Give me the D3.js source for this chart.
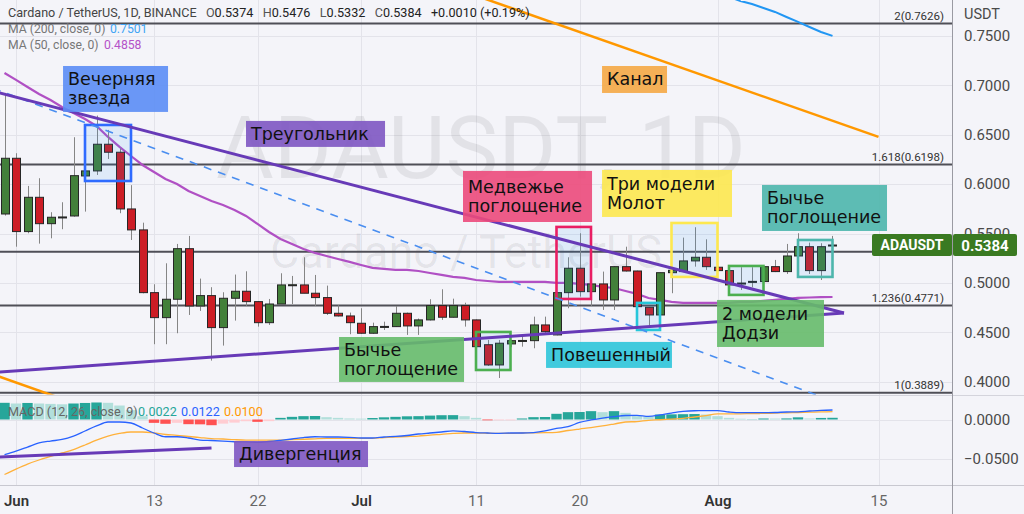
<!DOCTYPE html>
<html><head><meta charset="utf-8">
<script src="https://cdn.jsdelivr.net/npm/d3@7/dist/d3.min.js"></script>
<style>
html,body{margin:0;padding:0;background:#f4f4f9;}
svg{display:block;font-family:Roboto,"Noto Sans",sans-serif;}
</style></head><body>
<svg id="chart" width="1024" height="514"></svg>
<script>
// ---------------- DATA ----------------
const startDate = "2022-05-31"; // one candle per day from here
const opens  = [0.5698,0.6262,0.5520,0.5867,0.5600,0.5662,0.5678,0.6083,0.6134,0.6404,0.6323,0.5749,0.5537,0.4902,0.4649,0.4835,0.5347,0.4767,0.4872,0.4548,0.4845,0.4916,0.4811,0.4598,0.4787,0.4978,0.4980,0.4896,0.4852,0.4693,0.4666,0.4592,0.4491,0.4556,0.4558,0.4693,0.4565,0.4626,0.4771,0.4653,0.4771,0.4626,0.4375,0.4170,0.4383,0.4414,0.4416,0.4575,0.4474,0.4902,0.5149,0.4912,0.4990,0.4828,0.5165,0.5121,0.4754,0.4676,0.5104,0.5115,0.5223,0.5260,0.5159,0.5125,0.4995,0.5012,0.5014,0.5165,0.5115,0.5273,0.5367,0.5125,0.5374];
const highs  = [0.6923,0.6313,0.5982,0.6060,0.5716,0.5817,0.6475,0.6140,0.6694,0.6549,0.6363,0.5990,0.5610,0.4987,0.5199,0.5395,0.5476,0.5044,0.4957,0.4906,0.5085,0.5118,0.4815,0.4838,0.5098,0.5071,0.5260,0.5081,0.4973,0.4774,0.4700,0.4744,0.4598,0.4608,0.4767,0.4700,0.4640,0.4835,0.4936,0.4841,0.4800,0.4630,0.4423,0.4423,0.4416,0.4474,0.4659,0.4659,0.4902,0.5260,0.5503,0.4995,0.5115,0.5170,0.5367,0.5125,0.4754,0.5104,0.5128,0.5459,0.5564,0.5442,0.5165,0.5125,0.5159,0.5159,0.5165,0.5233,0.5395,0.5503,0.5408,0.5402,0.5476];
const lows   = [0.5682,0.5367,0.5503,0.5398,0.5452,0.5544,0.5671,0.5722,0.6093,0.6255,0.5706,0.5435,0.4895,0.4380,0.4380,0.4491,0.4676,0.4717,0.4214,0.4366,0.4619,0.4767,0.4558,0.4575,0.4787,0.4787,0.4896,0.4767,0.4676,0.4660,0.4481,0.4485,0.4485,0.4524,0.4555,0.4474,0.4474,0.4620,0.4626,0.4650,0.4558,0.4350,0.4160,0.4038,0.4350,0.4355,0.4339,0.4491,0.4470,0.4744,0.4862,0.4767,0.4727,0.4727,0.5115,0.4710,0.4558,0.4670,0.4896,0.5110,0.5165,0.5132,0.5120,0.4957,0.4929,0.4957,0.5010,0.5110,0.5091,0.5270,0.5091,0.5030,0.5332];
const closes = [0.6262,0.5520,0.5867,0.5600,0.5665,0.5668,0.6086,0.6134,0.6404,0.6323,0.5749,0.5537,0.4902,0.4649,0.4835,0.5347,0.4767,0.4872,0.4548,0.4845,0.4916,0.4811,0.4598,0.4787,0.4980,0.4982,0.4896,0.4852,0.4693,0.4666,0.4598,0.4491,0.4558,0.4560,0.4693,0.4565,0.4626,0.4771,0.4653,0.4771,0.4626,0.4355,0.4170,0.4390,0.4416,0.4418,0.4575,0.4507,0.4902,0.5149,0.4912,0.4990,0.4828,0.5165,0.5121,0.4760,0.4676,0.5104,0.5128,0.5223,0.5260,0.5165,0.5125,0.4980,0.4999,0.5016,0.5165,0.5115,0.5273,0.5367,0.5125,0.5367,0.5384];
const ma50   = [0.7125,0.7055,0.6984,0.6913,0.6852,0.6781,0.6721,0.6660,0.6589,0.6478,0.6377,0.6285,0.6194,0.6123,0.6053,0.6002,0.5931,0.5881,0.5830,0.5789,0.5739,0.5678,0.5597,0.5516,0.5445,0.5395,0.5344,0.5304,0.5273,0.5243,0.5213,0.5182,0.5152,0.5142,0.5132,0.5132,0.5121,0.5101,0.5081,0.5061,0.5051,0.5030,0.5020,0.5010,0.5010,0.5010,0.5010,0.5010,0.5000,0.5000,0.4990,0.4980,0.4960,0.4949,0.4919,0.4889,0.4848,0.4828,0.4808,0.4798,0.4798,0.4798,0.4798,0.4798,0.4808,0.4808,0.4818,0.4828,0.4838,0.4848,0.4853,0.4856,0.4858];
const ma200FirstDay = 63;
const ma200  = [0.7895,0.7854,0.7824,0.7783,0.7743,0.7692,0.7642,0.7591,0.7540,0.7501];
const macdLine   = [-0.0449,-0.0404,-0.0353,-0.0301,-0.0276,-0.0256,-0.0212,-0.0147,-0.0083,-0.0032,-0.0032,-0.0045,-0.0109,-0.0173,-0.0221,-0.0221,-0.0237,-0.0263,-0.0269,-0.0276,-0.0285,-0.0288,-0.0292,-0.0282,-0.0267,-0.0250,-0.0231,-0.0221,-0.0224,-0.0224,-0.0228,-0.0237,-0.0237,-0.0224,-0.0217,-0.0205,-0.0186,-0.0173,-0.0160,-0.0145,-0.0154,-0.0167,-0.0173,-0.0177,-0.0173,-0.0173,-0.0167,-0.0147,-0.0115,-0.0092,-0.0038,-0.0006,0.0019,0.0037,0.0051,0.0054,0.0041,0.0058,0.0083,0.0103,0.0112,0.0113,0.0113,0.0096,0.0087,0.0087,0.0087,0.0090,0.0096,0.0099,0.0109,0.0118,0.0122];
const signalLine = [-0.0705,-0.0635,-0.0571,-0.0519,-0.0474,-0.0429,-0.0385,-0.0327,-0.0263,-0.0212,-0.0179,-0.0160,-0.0160,-0.0173,-0.0192,-0.0203,-0.0218,-0.0231,-0.0244,-0.0250,-0.0258,-0.0263,-0.0263,-0.0263,-0.0263,-0.0258,-0.0253,-0.0247,-0.0242,-0.0241,-0.0241,-0.0241,-0.0241,-0.0231,-0.0224,-0.0218,-0.0212,-0.0199,-0.0190,-0.0179,-0.0173,-0.0173,-0.0176,-0.0177,-0.0177,-0.0173,-0.0171,-0.0169,-0.0164,-0.0141,-0.0122,-0.0104,-0.0083,-0.0058,-0.0032,-0.0026,-0.0010,-0.0003,0.0006,0.0014,0.0032,0.0051,0.0071,0.0072,0.0073,0.0076,0.0078,0.0082,0.0086,0.0090,0.0094,0.0097,0.0100];
const histogram  = [0.0214,0.0205,0.0212,0.0205,0.0200,0.0195,0.0205,0.0212,0.0218,0.0214,0.0179,0.0120,0.0043,-0.0043,-0.0055,-0.0043,-0.0060,-0.0062,-0.0073,-0.0053,-0.0040,-0.0022,-0.0030,-0.0021,0.0021,0.0034,0.0043,0.0045,0.0030,0.0021,0.0013,0.0011,0.0019,0.0028,0.0034,0.0041,0.0043,0.0050,0.0055,0.0056,0.0043,0.0021,-0.0009,-0.0006,-0.0004,0.0013,0.0030,0.0032,0.0073,0.0094,0.0096,0.0107,0.0094,0.0107,0.0085,0.0043,0.0038,0.0064,0.0066,0.0068,0.0070,0.0064,0.0043,0.0021,0.0010,0.0003,0.0013,0.0012,0.0014,0.0028,0.0013,0.0020,0.0022];
const priceTicks = [0.40,0.45,0.50,0.55,0.60,0.65,0.70,0.75];
const macdTicks  = [0.0,-0.05];
const timeTickDates  = ["2022-06-01","2022-06-13","2022-06-22","2022-07-01","2022-07-11","2022-07-20","2022-08-01","2022-08-15"];
const timeTickLabels = ["Jun","13","22","Jul","11","20","Aug","15"];
const fibRatios = ["2","1.618","1.382","1.236","1"];
const fibValues = [0.7626,0.6198,0.5317,0.4771,0.3889];
// drawings anchored in (date, price)
const triangleUpper = [["2022-05-30",0.6941],["2022-08-12",0.4696]];
const triangleLower = [["2022-05-30",0.4094],["2022-08-12",0.4696]];
const dashedTrend   = [["2022-05-30",0.6970],["2022-08-10",0.3849]];
const channelUpper  = [["2022-07-11",0.7908],["2022-08-15",0.6478]];
const channelLower  = [["2022-05-30",0.4074],["2022-06-06",0.3787]];
const divergence    = [["2022-05-30",-0.0485],["2022-06-18",-0.0365]];
const patternFrom   = ["2022-06-07","2022-07-18","2022-07-28","2022-08-08","2022-08-02","2022-07-11","2022-07-25"];
const patternTo     = ["2022-06-11","2022-07-21","2022-08-01","2022-08-11","2022-08-05","2022-07-14","2022-07-27"];
const patternTop    = [0.6599,0.5567,0.5607,0.5435,0.5172,0.4504,0.4798];
const patternBottom = [0.6032,0.4838,0.5061,0.5061,0.4879,0.4119,0.4524];
const labelTexts = [["Вечерняя","звезда"],["Треугольник"],["Канал"],["Медвежье","поглощение"],["Три модели","Молот"],["Бычье","поглощение"],["2 модели","Додзи"],["Бычье","поглощение"],["Повешенный"],["Дивергенция"]];
const labelFromDay = [5.09,21.0,51.96,39.87,51.96,65.87,61.96,29.09,47.09,19.96];
const labelToDay   = [14.22,33.09,57.61,51.09,63.26,76.74,71.26,39.96,58.04,31.61];
const labelTop     = [0.7196,0.6640,0.7196,0.6134,0.6144,0.5992,0.4828,0.4453,0.4403,-0.0276];
const labelBottom  = [0.6731,0.6377,0.6923,0.5617,0.5668,0.5526,0.4352,0.3998,0.4140,-0.0609];

// ---------------- STYLE / LAYOUT ----------------
const patternColors = ["#2f6bff","#e91e63","#fde84f","#4db6ac","#4caf50","#4caf50","#26c6da"];
const labelColors = ["#5b8df5","#7e57c2","#f5a845","#ec4a7b","#fde84f","#4db6ac","#66bb6a","#66bb6a","#2ec5d9","#7e57c2"];
const labelPane = ["m","m","m","m","m","m","m","m","m","d"];

const W=1024,H=514, PR=952;
const svg = d3.select("#chart");
const t0 = new Date(startDate+"T00:00:00Z").getTime();
const dayAt = i => new Date(t0 + i*864e5);
const dates = opens.map((_,i)=>dayAt(i));
const P = s => new Date(s+"T00:00:00Z");
const x  = d3.scaleUtc().domain([dayAt(0),dayAt(76)]).range([4.5,878.5]);
const y  = d3.scaleLinear().domain([0.3876,0.7864]).range([394,0]);
const ym = d3.scaleLinear().domain([-0.0865,0.0314]).range([487,395]);

svg.append("rect").attr("width",W).attr("height",H).attr("fill","#f4f4f9");
const defs = svg.append("defs");
defs.append("clipPath").attr("id","cm").append("rect").attr("x",0).attr("y",0).attr("width",PR).attr("height",394.5);
defs.append("clipPath").attr("id","cd").append("rect").attr("x",0).attr("y",396).attr("width",PR).attr("height",89);

// grid
const grid = svg.append("g").attr("stroke","#e3e3ea").attr("stroke-width",1);
grid.selectAll(".h").data(priceTicks).join("line").attr("x1",0).attr("x2",PR).attr("y1",d=>Math.round(y(d))+0.5).attr("y2",d=>Math.round(y(d))+0.5);
grid.selectAll(".hm").data(macdTicks).join("line").attr("x1",0).attr("x2",PR).attr("y1",d=>Math.round(ym(d))+0.5).attr("y2",d=>Math.round(ym(d))+0.5);
grid.selectAll(".v").data(timeTickDates).join("line").attr("x1",d=>Math.round(x(P(d)))+0.5).attr("x2",d=>Math.round(x(P(d)))+0.5).attr("y1",0).attr("y2",485);

// watermark
svg.append("text").attr("x",216).attr("y",178).attr("font-size",88).attr("textLength",530).attr("lengthAdjust","spacingAndGlyphs")
  .attr("fill","#000").attr("fill-opacity",0.07).text("ADAUSDT, 1D");
svg.append("text").attr("x",270).attr("y",268).attr("font-size",46).attr("textLength",392).attr("lengthAdjust","spacingAndGlyphs")
  .attr("fill","#000").attr("fill-opacity",0.07).text("Cardano / TetherUS");

// separators
svg.append("line").attr("x1",0).attr("x2",W).attr("y1",395.5).attr("y2",395.5).attr("stroke","#d4d4dc");
svg.append("line").attr("x1",0).attr("x2",W).attr("y1",485.5).attr("y2",485.5).attr("stroke","#c8c8d0");

const main = svg.append("g").attr("clip-path","url(#cm)");
// fib levels
fibValues.forEach((v,i)=>{
  main.append("line").attr("x1",0).attr("x2",PR).attr("y1",y(v)).attr("y2",y(v)).attr("stroke","#4f4f57").attr("stroke-width",2);
  main.append("text").attr("x",944).attr("y",y(v)-4).attr("text-anchor","end").attr("font-size",11.5).attr("fill","#333")
    .text(`${fibRatios[i]}(${v.toFixed(4)})`);
});
// MAs
main.append("path").datum(ma50).attr("fill","none").attr("stroke","#b050c4").attr("stroke-width",2.2)
  .attr("d", d3.line().x((d,i)=>x(dates[i])).y(d=>y(d)));
main.append("path").datum(ma200).attr("fill","none").attr("stroke","#2196f3").attr("stroke-width",2)
  .attr("d", d3.line().x((d,i)=>x(dayAt(ma200FirstDay+i))).y(d=>y(d)));

// candles
const cg = main.append("g");
dates.forEach((d,i)=>{
  const cx = Math.round(x(d))+0.5, up = closes[i]>=opens[i];
  cg.append("line").attr("x1",cx).attr("x2",cx).attr("y1",y(highs[i])).attr("y2",y(lows[i])).attr("stroke","#858585").attr("stroke-width",1);
  const y1=y(Math.max(opens[i],closes[i])), y2=y(Math.min(opens[i],closes[i]));
  cg.append("rect").attr("x",cx-4).attr("width",8).attr("y",y1).attr("height",Math.max(1,y2-y1))
    .attr("fill",up?"#43803a":"#cc1d25").attr("stroke","#262626").attr("stroke-width",1);
});

// pattern rectangles
patternFrom.forEach((f,i)=>{
  const x1=x(P(f)), x2=x(P(patternTo[i])), y1=y(patternTop[i]), y2=y(patternBottom[i]);
  main.append("rect").attr("x",x1).attr("y",y1).attr("width",x2-x1).attr("height",y2-y1)
    .attr("fill","rgba(33,150,243,0.10)").attr("stroke",patternColors[i]).attr("stroke-width",2.6);
});

// trend lines
const seg = pts => d3.line().x(p=>x(P(p[0]))).y(p=>y(p[1]))(pts);
main.append("path").attr("d",seg(dashedTrend)).attr("fill","none").attr("stroke","#4a8ef0").attr("stroke-width",1.6).attr("stroke-dasharray","8,7");
main.append("path").attr("d",seg(triangleUpper)).attr("fill","none").attr("stroke","#673ab7").attr("stroke-width",3);
main.append("path").attr("d",seg(triangleLower)).attr("fill","none").attr("stroke","#673ab7").attr("stroke-width",3);
main.append("path").attr("d",seg(channelUpper)).attr("fill","none").attr("stroke","#ff9800").attr("stroke-width",2.5);
svg.append("path").attr("d",seg(channelLower)).attr("fill","none").attr("stroke","#ff9800").attr("stroke-width",2.5).attr("clip-path","url(#cm)");

// MACD pane
const md = svg.append("g").attr("clip-path","url(#cd)");
histogram.forEach((v,i)=>{
  const prev = i>0?histogram[i-1]:-1;
  const col = v>=0 ? (v>=prev?"#26a69a":"#b2dfdb") : (v<prev?"#ff5252":"#ffcdd2");
  const cx = x(dates[i]);
  md.append("rect").attr("x",cx-5.2).attr("width",10.4).attr("y",Math.min(ym(v),ym(0))).attr("height",Math.max(0.8,Math.abs(ym(v)-ym(0)))).attr("fill",col);
});
md.append("path").datum(signalLine).attr("fill","none").attr("stroke","#ffb13b").attr("stroke-width",1.3)
  .attr("d", d3.line().x((d,i)=>x(dates[i])).y(d=>ym(d)).curve(d3.curveMonotoneX));
md.append("path").datum(macdLine).attr("fill","none").attr("stroke","#2962ff").attr("stroke-width",1.3)
  .attr("d", d3.line().x((d,i)=>x(dates[i])).y(d=>ym(d)).curve(d3.curveMonotoneX));
md.append("path").attr("d", d3.line().x(p=>x(P(p[0]))).y(p=>ym(p[1]))(divergence)).attr("fill","none").attr("stroke","#673ab7").attr("stroke-width",3);

// label boxes
labelTexts.forEach((lines,i)=>{
  const sy = labelPane[i]==="d"?ym:y;
  const x1=x(dayAt(labelFromDay[i])), x2=x(dayAt(labelToDay[i]));
  const y1=sy(labelTop[i]), y2=sy(labelBottom[i]), h=y2-y1, lh=19;
  const g = svg.append("g");
  g.append("rect").attr("x",x1).attr("y",y1).attr("width",x2-x1).attr("height",h).attr("fill",labelColors[i]).attr("fill-opacity",0.9);
  lines.forEach((t,j)=>{
    g.append("text").attr("x",x1+5).attr("y",y1+(h-lines.length*lh)/2+lh*j+15.5)
      .attr("font-family","'DejaVu Sans',sans-serif").attr("font-size",17.5).attr("fill","#111").text(t);
  });
});

// price axis
svg.append("line").attr("x1",PR+0.5).attr("x2",PR+0.5).attr("y1",0).attr("y2",H).attr("stroke","#9a9aa2");
const pa = svg.append("g").attr("transform",`translate(${PR},0)`)
  .call(d3.axisRight(y).tickValues(priceTicks).tickFormat(d3.format(".4f")).tickSize(0).tickPadding(12));
const ma = svg.append("g").attr("transform",`translate(${PR},0)`)
  .call(d3.axisRight(ym).tickValues(macdTicks).tickFormat(d3.format(".4f")).tickSize(0).tickPadding(12));
[pa,ma].forEach(a=>{a.select(".domain").remove(); a.selectAll("text").attr("font-size",15).attr("fill","#4a4a4a").attr("font-family","Roboto,sans-serif");});
svg.append("text").attr("x",964).attr("y",19).attr("font-size",14.5).attr("fill","#4a4a4a").text("USDT");

// time axis
const ta = svg.append("g").attr("transform","translate(0,486)")
  .call(d3.axisBottom(x).tickValues(timeTickDates.map(P)).tickFormat((d,i)=>timeTickLabels[i]).tickSize(0).tickPadding(9));
ta.select(".domain").remove();
ta.selectAll("text").attr("font-size",15).attr("font-family","Roboto,sans-serif")
  .attr("fill",(d,i)=>/^[A-Z]/.test(timeTickLabels[i])?"#333":"#666")
  .attr("font-weight",(d,i)=>/^[A-Z]/.test(timeTickLabels[i])?600:400);

// header legend
const last = opens.length-1;
const hdr = svg.append("text").attr("x",8).attr("y",17).attr("font-size",12.6).attr("fill","#444").style("white-space","pre");
hdr.append("tspan").text("Cardano / TetherUS, 1D, BINANCE   ");
[["O",opens[last]],["H",highs[last]],["L",lows[last]],["C",closes[last]]].forEach(([k,v])=>{
  hdr.append("tspan").attr("fill","#555").text(k); hdr.append("tspan").attr("fill","#222").text(v.toFixed(4)+"   ");
});
const chg = closes[last]-opens[last];
hdr.append("tspan").attr("fill","#222").text(`+${chg.toFixed(4)} (+${(chg/closes[last-1]*100).toFixed(2)}%)`);
const leg = (yy,label,val,col,vx)=>{
  svg.append("text").attr("x",8).attr("y",yy).attr("font-size",12.2).attr("fill","#777").text(label);
  svg.append("text").attr("x",vx).attr("y",yy).attr("font-size",12.2).attr("fill",col).text(val.toFixed(4));
};
leg(33,"MA (200, close, 0)",ma200[ma200.length-1],"#42a5f5",110);
leg(49,"MA (50, close, 0)",ma50[ma50.length-1],"#b552c8",104);
svg.append("text").attr("x",8).attr("y",416).attr("font-size",12.6).attr("fill","#666").text("MACD (12, 26, close, 9)");
svg.append("text").attr("x",138).attr("y",416).attr("font-size",12.6).attr("fill","#26a69a").text(histogram[last].toFixed(4));
svg.append("text").attr("x",181).attr("y",416).attr("font-size",12.6).attr("fill","#2962ff").text(macdLine[last].toFixed(4));
svg.append("text").attr("x",224).attr("y",416).attr("font-size",12.6).attr("fill","#ff9800").text(signalLine[last].toFixed(4));

// last price label
const ly = y(closes[last]);
svg.append("rect").attr("x",872).attr("y",ly-11).attr("width",80).attr("height",22).attr("rx",2).attr("fill","#3a7a22");
svg.append("rect").attr("x",953).attr("y",ly-11).attr("width",64).attr("height",22).attr("rx",2).attr("fill","#3a7a22");
svg.append("text").attr("x",912).attr("y",ly+5).attr("text-anchor","middle").attr("font-size",14).attr("font-weight",700).attr("fill","#fff").text("ADAUSDT");
svg.append("text").attr("x",985).attr("y",ly+5.5).attr("text-anchor","middle").attr("font-size",15).attr("font-weight",700).attr("fill","#fff").text(closes[last].toFixed(4));
</script>
</body></html>
